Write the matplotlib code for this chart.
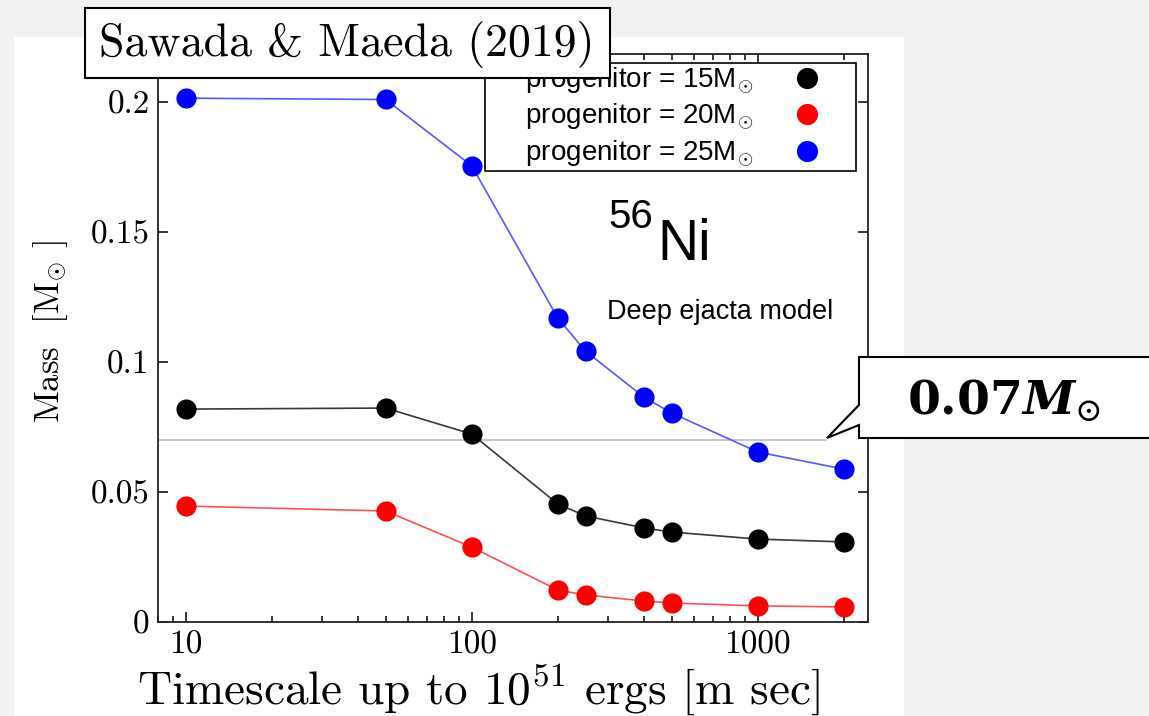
import numpy as np
import matplotlib
matplotlib.use('Agg')
import matplotlib.pyplot as plt
from matplotlib.patches import Rectangle, Polygon
from matplotlib.ticker import FixedLocator, FuncFormatter, LogLocator, NullFormatter

plt.rcParams['mathtext.fontset'] = 'cm'

# timescale (ms) and 56Ni mass (Msun) for the deep ejacta model
timescale = [10, 50, 100, 200, 250, 400, 500, 1000, 2000]
mass_15 = [0.0819, 0.0823, 0.0723, 0.0454, 0.0408, 0.0362, 0.0346, 0.0319, 0.0308]
mass_20 = [0.0446, 0.0427, 0.0288, 0.0123, 0.0104, 0.0081, 0.0073, 0.0062, 0.0058]
mass_25 = [0.2015, 0.2010, 0.1755, 0.1169, 0.1042, 0.0865, 0.0804, 0.0654, 0.0588]
labels = [r'progenitor = 15M$_{\odot}$', r'progenitor = 20M$_{\odot}$', r'progenitor = 25M$_{\odot}$']
ref_mass = 0.07

W, H = 1149, 716
fig = plt.figure(figsize=(W / 100, H / 100), dpi=100)
fig.patch.set_facecolor('#f2f2f2')


def px(x, y):
    # pixel position (y downwards) -> figure fraction
    return (x / W, 1 - y / H)


# white panel behind the plot
fig.patches.append(Rectangle(px(14, 716), 890 / W, 679 / H, transform=fig.transFigure,
                             facecolor='white', edgecolor='none', zorder=-10))

ax = fig.add_axes([158 / W, 94 / H, 710 / W, 568 / H])
ax.set_xscale('log')
ax.set_xlim(8.0, 2430)
ax.set_ylim(0, 0.2185)

series = [(mass_15, 'black', '#383838'), (mass_20, '#ff0000', '#ff5050'), (mass_25, '#0000ff', '#5858ff')]
for (m, c, lc), lab in zip(series, labels):
    ax.plot(timescale, m, '-', color=lc, lw=1.2, zorder=2)
    ax.plot(timescale, m, 'o', color=c, ms=14.5, mew=0, label=lab, zorder=3)

ax.axhline(ref_mass, xmin=0, xmax=(826 - 158) / 710, color='#b8b8b8', lw=1.1, zorder=1)

ax.xaxis.set_major_locator(FixedLocator([10, 100, 1000]))
ax.xaxis.set_minor_locator(LogLocator(base=10, subs=np.arange(2, 10)))
ax.xaxis.set_minor_formatter(NullFormatter())
ax.xaxis.set_major_formatter(FuncFormatter(lambda v, p: '%d' % v))
ax.yaxis.set_major_locator(FixedLocator([0, 0.05, 0.1, 0.15, 0.2]))
ax.yaxis.set_major_formatter(FuncFormatter(lambda v, p: '%g' % v))
ax.tick_params(which='both', direction='in', top=True, right=True, width=1.1, labelsize=24)
ax.tick_params(which='major', length=7, pad=6)
ax.tick_params(which='minor', length=4)
for t in ax.get_xticklabels() + ax.get_yticklabels():
    t.set_family('cmr10')
for s in ax.spines.values():
    s.set_linewidth(1.3)
    s.set_color('#222222')

leg = ax.legend(loc='upper right', bbox_to_anchor=((856 - 158) / 710, (622 - 63) / 568),
                borderaxespad=0, markerfirst=False, fancybox=False, edgecolor='black',
                framealpha=1, handlelength=3.4, handletextpad=0.2, labelspacing=0.2,
                borderpad=0.08, markerscale=1.05,
                prop={'family': 'Liberation Sans', 'size': 20})
leg.get_frame().set_linewidth(1.2)
for t in leg.get_texts():
    t.set_text('     ' + t.get_text())

# isotope label
ax.text((608 - 158) / 710, (622 - 198) / 568, '56', transform=ax.transAxes,
        family='Liberation Sans', fontsize=29, va='top', ha='left')
ax.text((657 - 158) / 710, (622 - 260) / 568, 'Ni', transform=ax.transAxes,
        family='Liberation Sans', fontsize=41, va='baseline', ha='left')
ax.text((607 - 158) / 710, (622 - 312) / 568, 'Deep ejacta model', transform=ax.transAxes,
        family='Liberation Sans', fontsize=19.5, va='center', ha='left')

# axis labels
fig.text(*px(50, 332), r'Mass  [M$_{\odot}$ ]', family='cmr10', rotation=90, fontsize=25,
         ha='center', va='center')
fig.text(*px(478, 690), r'Timescale up to 10$^{51}$ ergs [m sec]', family='cmr10', fontsize=34,
         ha='center', va='center')

# reference box
fig.patches.append(Rectangle(px(85, 78), 525 / W, 70 / H, transform=fig.transFigure,
                             facecolor='white', edgecolor='black', lw=1.5, zorder=5))
fig.text(*px(347, 44), 'Sawada & Maeda (2019)', family='cmr10', fontsize=33,
         ha='center', va='center', zorder=6)

# callout for the 0.07 Msun line
callout = [px(859, 357), px(1160, 357), px(1160, 438), px(859, 438),
           px(859, 425), px(827, 438), px(859, 405)]
fig.patches.append(Polygon(callout, closed=True, transform=fig.transFigure,
                           facecolor='white', edgecolor='black', lw=1.5, zorder=5))
fig.text(*px(1004, 402), r'$\mathbf{0.07}\mathbfit{M}_{\odot}$', fontsize=34,
         math_fontfamily='dejavuserif', ha='center', va='center', zorder=6)

fig.savefig('out.png', dpi=100, facecolor=fig.get_facecolor())
